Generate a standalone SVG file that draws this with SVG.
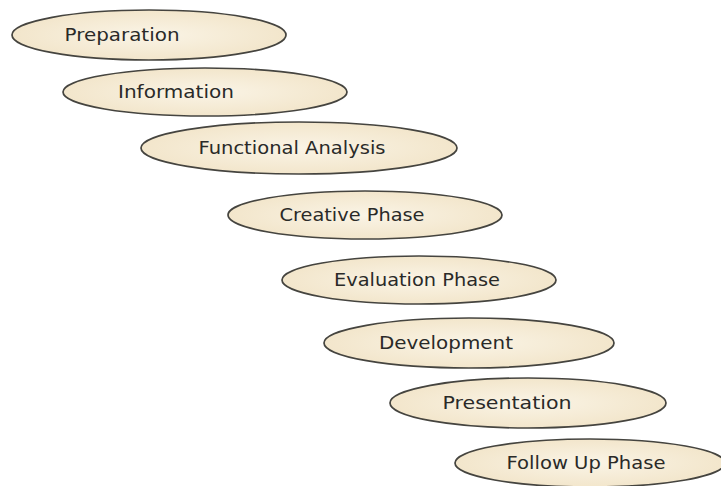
<svg xmlns="http://www.w3.org/2000/svg" width="721" height="486" viewBox="0 0 721 486">
<defs>
<radialGradient id="g" cx="50%" cy="50%" r="60%">
<stop offset="0" stop-color="#FAF4E6"/>
<stop offset="1" stop-color="#F1E3C6"/>
</radialGradient>
<style>
.n ellipse{fill:url(#g);stroke:#45443f;stroke-width:1.7}
.n text{font-family:"DejaVu Sans","Verdana",sans-serif;font-size:18px;fill:#2a2a28;text-anchor:middle}
</style>
</defs>
<rect width="721" height="486" fill="#ffffff"/>
<g id="connectors"></g>
<g id="n1" class="n"><ellipse cx="149" cy="35" rx="137" ry="25"/><text x="122" y="41" textLength="115" lengthAdjust="spacingAndGlyphs">Preparation</text></g>
<g id="n2" class="n"><ellipse cx="205" cy="92" rx="142" ry="24"/><text x="176" y="98" textLength="116" lengthAdjust="spacingAndGlyphs">Information</text></g>
<g id="n3" class="n"><ellipse cx="299" cy="148" rx="158" ry="26"/><text x="292" y="154" textLength="187" lengthAdjust="spacingAndGlyphs">Functional Analysis</text></g>
<g id="n4" class="n"><ellipse cx="365" cy="215" rx="137" ry="24"/><text x="352" y="221" textLength="145" lengthAdjust="spacingAndGlyphs">Creative Phase</text></g>
<g id="n5" class="n"><ellipse cx="419" cy="280" rx="137" ry="24"/><text x="417" y="286" textLength="166" lengthAdjust="spacingAndGlyphs">Evaluation Phase</text></g>
<g id="n6" class="n"><ellipse cx="469" cy="343" rx="145" ry="25"/><text x="446" y="349" textLength="134" lengthAdjust="spacingAndGlyphs">Development</text></g>
<g id="n7" class="n"><ellipse cx="528" cy="403" rx="138" ry="25"/><text x="507" y="409" textLength="129" lengthAdjust="spacingAndGlyphs">Presentation</text></g>
<g id="n8" class="n"><ellipse cx="590" cy="463" rx="135" ry="24"/><text x="586" y="469" textLength="159" lengthAdjust="spacingAndGlyphs">Follow Up Phase</text></g>
</svg>
